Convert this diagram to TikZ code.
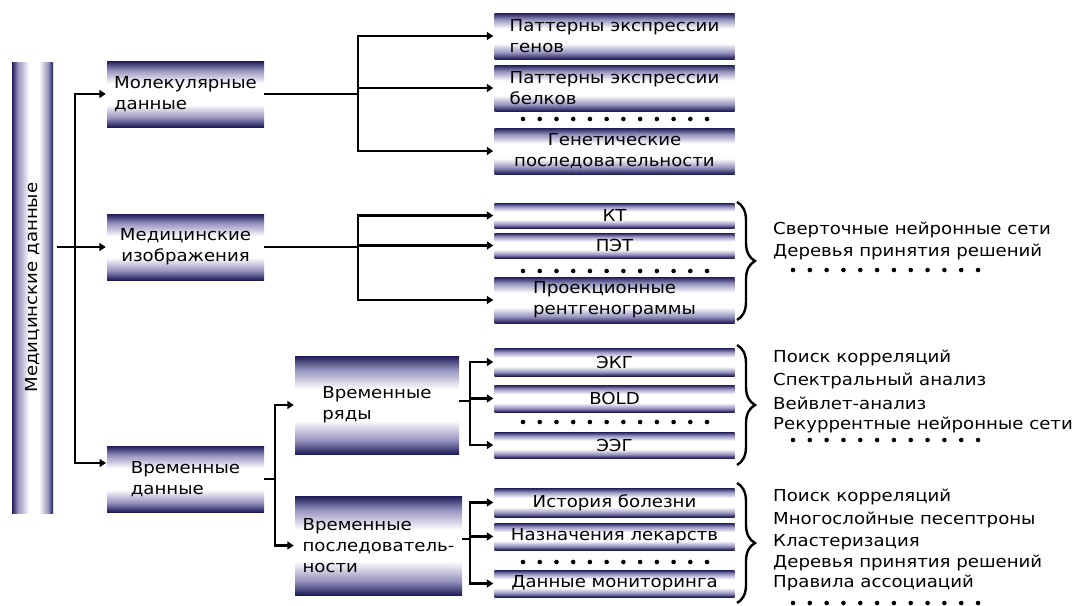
\documentclass[tikz,border=0pt]{standalone}
\usepackage{fontspec}
\setmainfont[FakeStretch=1.1]{DejaVu Sans}
\usetikzlibrary{arrows.meta,decorations.pathreplacing}
\definecolor{dk}{RGB}{30,27,88}
\definecolor{lav}{RGB}{150,146,190}
\pgfdeclareverticalshading{vsh}{100bp}{color(0bp)=(dk); color(25bp)=(dk); color(32bp)=(lav); color(42bp)=(white); color(58bp)=(white); color(68bp)=(lav); color(75bp)=(dk); color(100bp)=(dk)}
\pgfdeclarehorizontalshading{hsh}{100bp}{color(0bp)=(dk); color(25bp)=(dk); color(32bp)=(lav); color(46bp)=(white); color(58bp)=(white); color(69bp)=(lav); color(75bp)=(dk); color(100bp)=(dk)}
\newcommand\myfs{\fontsize{16.5}{21}\selectfont}
\tikzset{
  box/.style={shade, shading=vsh, inner sep=0pt, font=\myfs, align=left},
  lvl/.style={box, minimum width=157, minimum height=66},
  leaf/.style={box, minimum width=240},
  ln/.style={line width=2.1pt, line join=miter},
  arr/.style={ln, -{Triangle[length=6.5pt,width=8pt]}, shorten >=1pt},
  dot/.style={circle, fill=black, inner sep=0pt, minimum size=4.6pt},
  rtext/.style={anchor=west, font=\myfs, inner sep=0pt},
  brc/.style={line width=2.4pt, decorate, decoration={brace, amplitude=18pt}}
}
\begin{document}
\begin{tikzpicture}[x=1pt,y=-1pt]
\useasboundingbox (0,0) rectangle (1083,605);
% left bar
\node[shade, shading=hsh, inner sep=0pt, minimum width=41, minimum height=451] (bar) at (32.5,287.5) {};
\node[rotate=90, font=\myfs] (bartxt) at (bar.center) {Медицинские данные};
% level 1
\node[lvl] (mol) at (185.5,94) {Молекулярные\\данные};
\node[lvl, align=center] (med) at (185.5,247) {Медицинские\\изображения};
\node[lvl] (tmp) at (185.5,479) {Временные\\данные};
% level 2
\node[box, minimum width=164, minimum height=98] (ryad) at (377,405) {Временные\\ряды};
\node[box, minimum width=167, minimum height=99] (posl) at (378.5,545.5) {Временные\\последователь-\\ности};
% leaves group 1
\node[leaf, minimum height=46] (g1) at (614.5,36) {Паттерны экспрессии\\генов};
\node[leaf, minimum height=46] (g2) at (614.5,88) {Паттерны экспрессии\\белков};
\node[leaf, minimum height=46, align=center] (g3) at (614.5,151) {Генетические\\последовательности};
% group 2
\node[leaf, minimum height=25] (kt) at (614.5,215.5) {КТ};
\node[leaf, minimum height=25] (pet) at (614.5,245.5) {ПЭТ};
\node[leaf, minimum height=46] (proj) at (614.5,300) {Проекционные\\рентгенограммы};
% group 3
\node[leaf, minimum height=28] (ekg) at (614.5,362) {ЭКГ};
\node[leaf, minimum height=27] (bold) at (614.5,398.5) {BOLD};
\node[leaf, minimum height=26] (eeg) at (614.5,445) {ЭЭГ};
% group 4
\node[leaf, minimum height=29] (ist) at (614.5,502.5) {История болезни};
\node[leaf, minimum height=27] (nazn) at (614.5,536.5) {Назначения лекарств};
\node[leaf, minimum height=27] (mon) at (614.5,583.5) {Данные мониторинга};
% junctions
\coordinate (j0) at (75,247);
\coordinate (tmpin) at (107,463);
\coordinate (j1) at (358,94);
\coordinate (j2) at (358,247);
\coordinate (j3) at (275,479);
\coordinate (j4) at (470,401);
\coordinate (j5) at (470,539);
% connectors
\draw[ln, shorten <=4pt] (bar.east |- j0) -- (j0);
\draw[arr] (j0) |- (mol.west);
\draw[arr] (j0) -- (med.west);
\draw[arr] (j0) |- (tmpin);
\draw[ln] (mol.east) -- (j1);
\draw[arr] (j1) |- (g1.west);
\draw[arr] (j1) |- (g2.west);
\draw[arr] (j1) |- (g3.west);
\draw[ln] (med.east) -- (j2);
\draw[arr] (j2) |- (kt.west);
\draw[arr] (j2) |- (pet.west);
\draw[arr] (j2) |- (proj.west);
\draw[ln] (tmp.east) -- (j3);
\draw[arr] (j3) |- (ryad.west);
\draw[arr] (j3) |- (posl.west);
\draw[ln] (ryad.east |- j4) -- (j4);
\draw[arr] (j4) |- (ekg.west);
\draw[arr] (j4) |- (bold.west);
\draw[arr] (j4) |- (eeg.west);
\draw[ln] (posl.east |- j5) -- (j5);
\draw[arr] (j5) |- (ist.west);
\draw[arr] (j5) |- (nazn.west);
\draw[arr] (j5) |- (mon.west);
% dot rows
\foreach \yy/\nm in {119/a,271/b,422/c,562/d}
  \foreach \k in {0,...,11}
    \node[dot] (d\nm\k) at (523+\k*16.73,\yy) {};
\foreach \yy/\nm in {270/e,440/f,603/g}
  \foreach \k in {0,...,11}
    \node[dot] (d\nm\k) at (793+\k*16.82,\yy) {};
% braces
\coordinate (b2t) at (737,202); \coordinate (b2b) at (737,320);
\coordinate (b3t) at (737,345); \coordinate (b3b) at (737,465);
\coordinate (b4t) at (737,483); \coordinate (b4b) at (737,603);
\draw[brc] (b2t) -- (b2b);
\draw[brc] (b3t) -- (b3b);
\draw[brc] (b4t) -- (b4b);
% right texts
\node[rtext] (t21) at (773,230) {Сверточные нейронные сети};
\node[rtext] (t22) at (773,252) {Деревья принятия решений};
\node[rtext] (t31) at (773,358) {Поиск корреляций};
\node[rtext] (t32) at (773,381) {Спектральный анализ};
\node[rtext] (t33) at (773,403) {Вейвлет-анализ};
\node[rtext] (t34) at (773,425) {Рекуррентные нейронные сети};
\node[rtext] (t41) at (773,497) {Поиск корреляций};
\node[rtext] (t42) at (773,520) {Многослойные песептроны};
\node[rtext] (t43) at (773,542) {Кластеризация};
\node[rtext] (t44) at (773,563) {Деревья принятия решений};
\node[rtext] (t45) at (773,583) {Правила ассоциаций};
\end{tikzpicture}
\end{document}
